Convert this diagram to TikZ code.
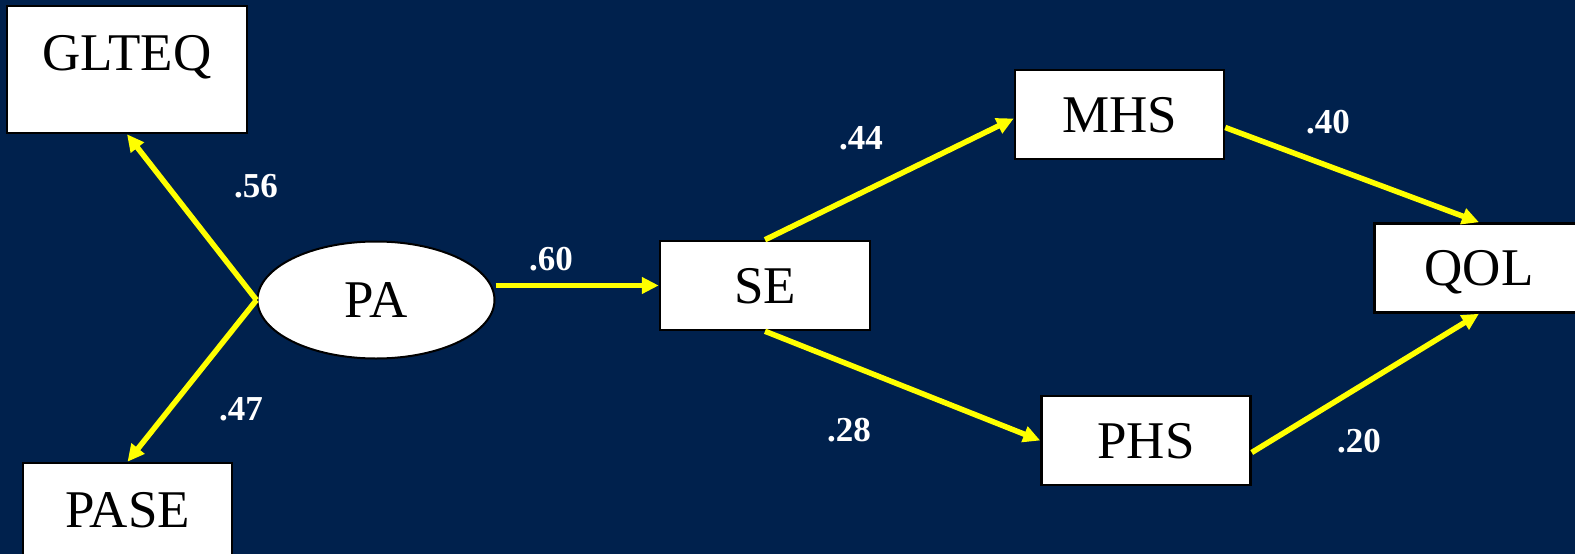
\documentclass[tikz,border=0pt]{standalone}
\usepackage{fontspec}
\setmainfont{Liberation Serif}
\usetikzlibrary{arrows.meta,calc,shapes.geometric}
\definecolor{navybg}{RGB}{0,33,77}
\definecolor{pathyellow}{RGB}{255,255,0}
\begin{document}
\begin{tikzpicture}[x=1pt,y=-1pt,
  tallbox/.style={draw=black,line width=2.5pt,fill=white,inner sep=0pt,minimum width=#1,
    text height=64pt,text depth=63pt,font=\fontsize{53}{60}\selectfont},
  flatbox/.style={draw=black,line width=2.5pt,fill=white,inner sep=0pt,minimum width=209pt,
    minimum height=89pt,text height=35pt,text depth=0pt,font=\fontsize{53}{60}\selectfont},
  latent/.style={ellipse,draw=black,line width=2pt,fill=white,inner sep=0pt,minimum width=237pt,
    minimum height=117pt,font=\fontsize{53}{60}\selectfont},
  pathline/.style={draw=pathyellow,line width=5.5pt,-{Triangle[length=17pt,width=16pt]}},
  coef/.style={text=white,font=\fontsize{35}{40}\selectfont\bfseries,inner sep=0pt}
]
\useasboundingbox (0,0) rectangle (1575,554);
\fill[navybg] (0,0) rectangle (1575,554);
\clip (0,0) rectangle (1575,554);

\node[tallbox=240pt] (GLTEQ) at (127,69.5) {GLTEQ};
\node[tallbox=209pt] (PASE) at (127.5,526.5) {PASE};
\node[latent] (PA) at (376,300) {PA};
\node[flatbox,minimum width=210pt] (SE) at (765,285.5) {SE};
\node[flatbox] (MHS) at (1119.5,114.5) {MHS};
\node[flatbox] (PHS) at (1146,440.5) {PHS};
\node[flatbox] (QOL) at (1479,268) {QOL};

\draw[pathline] (PA.west) -- (GLTEQ.south);
\draw[pathline] (PA.west) -- (PASE.north);
\draw[pathline] (SE.west -| PA.east) -- (SE.west);
\draw[pathline] (SE.north) -- ($(MHS.west)+(0,4)$);
\draw[pathline] (SE.south) -- (PHS.west);
\draw[pathline] ($(MHS.east)+(0,13)$) -- (QOL.north);
\draw[pathline] ($(PHS.east)+(0,12)$) -- (QOL.south);

\node[coef] (c56) at (256,186) {.56};
\node[coef] (c47) at (241,409) {.47};
\node[coef] (c60) at (551,259) {.60};
\node[coef] (c44) at (861,138) {.44};
\node[coef] (c28) at (849,430) {.28};
\node[coef] (c40) at (1328,122) {.40};
\node[coef] (c20) at (1359,441) {.20};
\end{tikzpicture}
\end{document}
